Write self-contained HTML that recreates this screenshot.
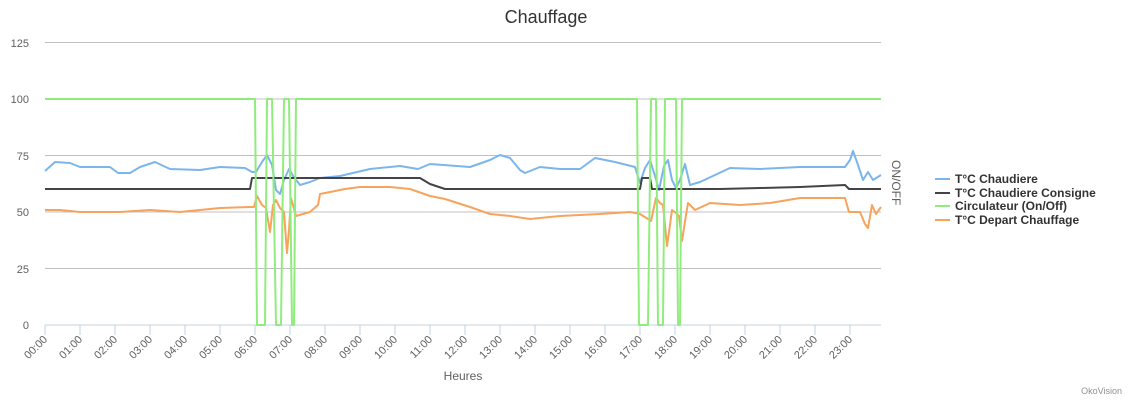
<!DOCTYPE html>
<html><head><meta charset="utf-8"><style>
body{margin:0;background:#fff;}
svg{display:block;font-family:"Liberation Sans",sans-serif;}
</style></head><body>
<svg width="1133" height="402" viewBox="0 0 1133 402" xmlns="http://www.w3.org/2000/svg">
<text x="546" y="23" text-anchor="middle" font-size="18" fill="#333">Chauffage</text>
<g stroke="#c0c0c0" stroke-width="1">
<line x1="45" y1="42.5" x2="881" y2="42.5"/>
<line x1="45" y1="99" x2="881" y2="99"/>
<line x1="45" y1="155.5" x2="881" y2="155.5"/>
<line x1="45" y1="212" x2="881" y2="212"/>
<line x1="45" y1="268.5" x2="881" y2="268.5"/>
</g>
<line x1="45" y1="325" x2="881" y2="325" stroke="#c0d0e0"/>
<g font-size="11" fill="#606060" text-anchor="end">
<text x="29" y="47">125</text><text x="29" y="103">100</text><text x="29" y="160">75</text>
<text x="29" y="216">50</text><text x="29" y="273">25</text><text x="29" y="329">0</text>
</g>
<g stroke="#c0d0e0">
<line x1="45" y1="325" x2="45" y2="335"/><line x1="80" y1="325" x2="80" y2="335"/><line x1="115" y1="325" x2="115" y2="335"/><line x1="150" y1="325" x2="150" y2="335"/><line x1="185" y1="325" x2="185" y2="335"/><line x1="220" y1="325" x2="220" y2="335"/><line x1="255" y1="325" x2="255" y2="335"/><line x1="290" y1="325" x2="290" y2="335"/><line x1="325" y1="325" x2="325" y2="335"/><line x1="360" y1="325" x2="360" y2="335"/><line x1="395" y1="325" x2="395" y2="335"/><line x1="430" y1="325" x2="430" y2="335"/><line x1="465" y1="325" x2="465" y2="335"/><line x1="500" y1="325" x2="500" y2="335"/><line x1="535" y1="325" x2="535" y2="335"/><line x1="570" y1="325" x2="570" y2="335"/><line x1="605" y1="325" x2="605" y2="335"/><line x1="640" y1="325" x2="640" y2="335"/><line x1="675" y1="325" x2="675" y2="335"/><line x1="710" y1="325" x2="710" y2="335"/><line x1="745" y1="325" x2="745" y2="335"/><line x1="780" y1="325" x2="780" y2="335"/><line x1="815" y1="325" x2="815" y2="335"/><line x1="850" y1="325" x2="850" y2="335"/>
</g>
<g font-size="11" fill="#606060" text-anchor="end">
<text transform="translate(48,340) rotate(-45)">00:00</text>
<text transform="translate(83,340) rotate(-45)">01:00</text>
<text transform="translate(118,340) rotate(-45)">02:00</text>
<text transform="translate(153,340) rotate(-45)">03:00</text>
<text transform="translate(188,340) rotate(-45)">04:00</text>
<text transform="translate(223,340) rotate(-45)">05:00</text>
<text transform="translate(258,340) rotate(-45)">06:00</text>
<text transform="translate(293,340) rotate(-45)">07:00</text>
<text transform="translate(328,340) rotate(-45)">08:00</text>
<text transform="translate(363,340) rotate(-45)">09:00</text>
<text transform="translate(398,340) rotate(-45)">10:00</text>
<text transform="translate(433,340) rotate(-45)">11:00</text>
<text transform="translate(468,340) rotate(-45)">12:00</text>
<text transform="translate(503,340) rotate(-45)">13:00</text>
<text transform="translate(538,340) rotate(-45)">14:00</text>
<text transform="translate(573,340) rotate(-45)">15:00</text>
<text transform="translate(608,340) rotate(-45)">16:00</text>
<text transform="translate(643,340) rotate(-45)">17:00</text>
<text transform="translate(678,340) rotate(-45)">18:00</text>
<text transform="translate(713,340) rotate(-45)">19:00</text>
<text transform="translate(748,340) rotate(-45)">20:00</text>
<text transform="translate(783,340) rotate(-45)">21:00</text>
<text transform="translate(818,340) rotate(-45)">22:00</text>
<text transform="translate(853,340) rotate(-45)">23:00</text>
</g>
<text x="463" y="380" font-size="12" fill="#606060" text-anchor="middle">Heures</text>
<text transform="translate(892,160) rotate(90)" font-size="12" fill="#606060">ON/OFF</text>
<g fill="none" stroke-width="2" stroke-linejoin="round">
<polyline stroke="#7cb5ec" points="45,171 55,162 70,163 80,167 110,167 118,173 130,173 140,167 155,162 170,169 200,170 220,167 245,168 252,172 256,172 262,162 267,155 272,165 276,190 280,194 284,180 289,169 293,176 300,185 310,182 320,178 340,176 370,169 400,166 418,169 430,164 470,167 490,160 500,155 510,158 520,170 525,173 540,167 560,169 580,169 595,158 615,162 635,167 640,183 645,168 650,160 655,176 659,190 664,166 668,160 672,180 676,188 680,180 685,164 690,185 700,182 730,168 760,169 800,167 845,167 850,160 853,151 858,165 863,180 868,172 873,180 881,175"/>
<polyline stroke="#434348" points="45,189 250,189 252,178 420,178 430,184 445,189 640,189 642,178 650,178 652,189 720,189 760,188 800,187 845,185 849,189 881,189"/>
<polyline stroke="#f7a35c" points="45,210 60,210 80,212 120,212 150,210 180,212 220,208 250,207 254,207 257,196 262,205 266,208 270,232 273,205 276,200 280,208 284,212 287,253 289,230 291,198 296,216 310,212 318,205 320,194 330,192 345,189 360,187 390,187 410,189 430,196 445,199 470,207 490,214 510,216 530,219 560,216 600,214 630,212 640,214 648,219 651,221 656,198 660,203 663,205 667,246 670,225 672,210 676,213 679,216 682,241 686,215 688,203 695,210 710,203 740,205 770,203 800,198 845,198 849,212 860,212 865,224 868,228 872,205 876,214 881,207"/>
<polyline stroke="#90ed7d" points="45,99 255,99 257,325 265,325 267,99 272,99 276,325 281,325 284,99 289,99 292,325 294,325 296,99 637,99 639,325 642,325 648,325 651,99 656,99 658,325 663,325 665,99 676,99 678,325 680,325 682,99 881,99"/>
</g>
<g font-size="12" font-weight="bold" fill="#333">
<line x1="935" y1="179" x2="950" y2="179" stroke="#7cb5ec" stroke-width="2"/><text x="955" y="183">T°C Chaudiere</text>
<line x1="935" y1="193" x2="950" y2="193" stroke="#434348" stroke-width="2"/><text x="955" y="197">T°C Chaudiere Consigne</text>
<line x1="935" y1="206" x2="950" y2="206" stroke="#90ed7d" stroke-width="2"/><text x="955" y="210">Circulateur (On/Off)</text>
<line x1="935" y1="220" x2="950" y2="220" stroke="#f7a35c" stroke-width="2"/><text x="955" y="224">T°C Depart Chauffage</text>
</g>
<text x="1122" y="394" font-size="9" fill="#909090" text-anchor="end">OkoVision</text>
</svg>
</body></html>
